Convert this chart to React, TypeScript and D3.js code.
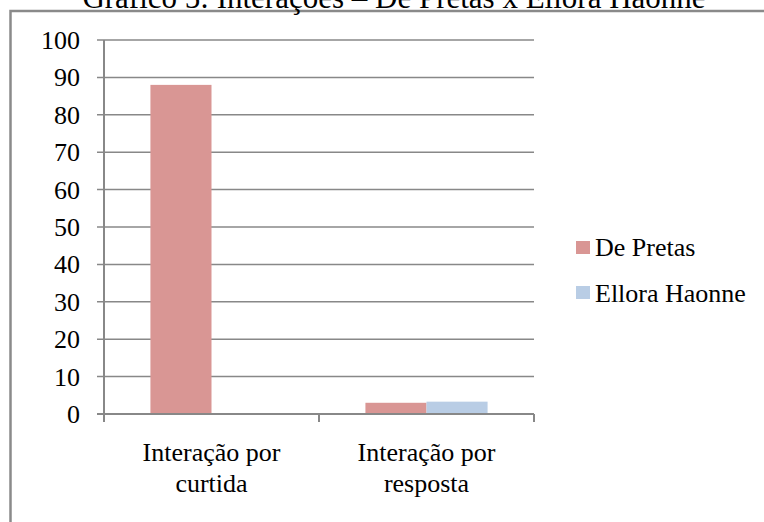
import React from "react";
import * as d3 from "d3";

const categories = ["Interação por curtida", "Interação por resposta"];
const categoryLines = [["Interação por", "curtida"], ["Interação por", "resposta"]];
const seriesNames = ["De Pretas", "Ellora Haonne"];
const dePretas = [88, 3];
const elloraHaonne = [0, 3.3];
const yTicks = [0, 10, 20, 30, 40, 50, 60, 70, 80, 90, 100];
const title = "Gráfico 5: Interações – De Pretas x Ellora Haonne";
const colors = ["#D99694", "#B9CDE5"];

export default function App() {
  const W = 764, H = 522;
  const left = 104, right = 534, top = 40, bottom = 414;
  const font = "'Liberation Serif', 'Times New Roman', serif";
  const grid = "#888888";
  const series = [dePretas, elloraHaonne];

  const x0 = d3.scaleBand<string>().domain(categories).range([left, right]).paddingInner(0).paddingOuter(0);
  const x1 = d3.scaleBand<string>().domain(seriesNames).range([0, x0.bandwidth()]).paddingInner(0).paddingOuter(0.76);
  const y = d3.scaleLinear().domain([0, 100]).range([bottom, top]);

  const xTickPos = [...categories.map((c) => x0(c)!), right];

  return (
    <svg width={W} height={H} style={{ position: "absolute", left: 0, top: 0, background: "#fff" }}>
      <rect x={10.5} y={11} width={800} height={600} fill="none" stroke="#8a8a8a" strokeWidth={2.5} />
      <text x={394} y={8} textAnchor="middle" fontFamily={font} fontSize={31} fill="#000">{title}</text>

      {yTicks.map((t) => (
        <g key={t}>
          {t !== 0 && (
            <line x1={left - 7} x2={right} y1={y(t)} y2={y(t)} stroke={grid} strokeWidth={1.5} />
          )}
          <text x={80} y={y(t) + 9} textAnchor="end" fontFamily={font} fontSize={26} fill="#000">{t}</text>
        </g>
      ))}

      {categories.map((c, ci) =>
        seriesNames.map((s, si) => {
          const v = series[si][ci];
          if (v <= 0) return null;
          return (
            <rect key={c + s} x={x0(c)! + x1(s)!} y={y(v)} width={x1.bandwidth()} height={y(0) - y(v)} fill={colors[si]} />
          );
        })
      )}

      <line x1={left} x2={left} y1={top} y2={bottom} stroke={grid} strokeWidth={2} />
      <line x1={left - 7} x2={right} y1={bottom} y2={bottom} stroke={grid} strokeWidth={2} />
      {xTickPos.map((p, i) => (
        <line key={i} x1={p} x2={p} y1={bottom} y2={bottom + 8} stroke={grid} strokeWidth={2} />
      ))}

      {categories.map((c, ci) => (
        <text key={c} textAnchor="middle" fontFamily={font} fontSize={26} fill="#000">
          {categoryLines[ci].map((ln, li) => (
            <tspan key={li} x={x0(c)! + x0.bandwidth() / 2} y={461 + li * 31}>{ln}</tspan>
          ))}
        </text>
      ))}

      {seriesNames.map((s, si) => (
        <g key={s}>
          <rect x={576} y={241 + si * 45} width={14} height={13} fill={colors[si]} />
          <text x={595} y={256 + si * 45.5} fontFamily={font} fontSize={26} fill="#000">{s}</text>
        </g>
      ))}
    </svg>
  );
}
